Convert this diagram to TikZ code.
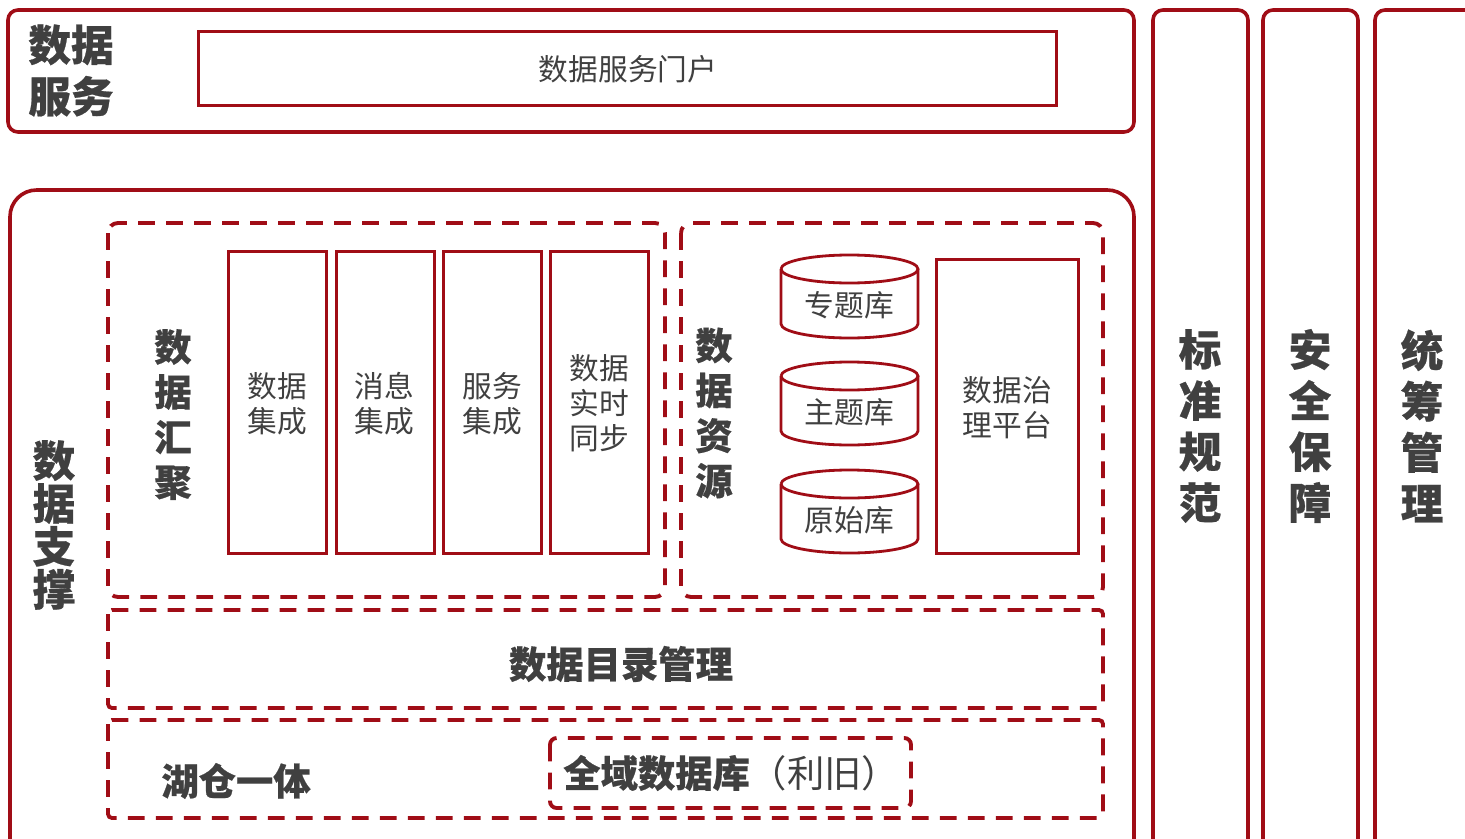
\documentclass[tikz,border=0pt]{standalone}
\usepackage{fontspec}
\setmainfont{Noto Sans CJK SC}[BoldFeatures={FakeBold=0.5}]
\definecolor{frame}{HTML}{A00D16}
\definecolor{ink}{HTML}{404040}
\newcommand{\fsz}[2]{\fontsize{#1}{#2}\selectfont}
\tikzset{
  x=0.75pt,y=-0.75pt,
  solidbox/.style={draw=frame,line width=2.7pt,rounded corners=7.5pt,fill=none},
  dashbox/.style={draw=frame,line width=2.9pt,rounded corners=7.5pt,dash pattern=on 12.6pt off 8.4pt,fill=none},
  flatdash/.style={dashbox,rounded corners=3pt},
  thinbox/.style={draw=frame,line width=2.25pt,fill=none,inner sep=0pt,outer sep=0pt,anchor=north west},
  thinline/.style={draw=frame,line width=2.1pt},
  plainlabel/.style={text=ink,font=\fsz{22.3}{26.3},inner sep=0pt,align=center},
  biglabel/.style={text=ink,font=\bfseries\fsz{32}{38.6},inner sep=0pt,align=center},
  midlabel/.style={text=ink,font=\bfseries\fsz{28}{33.8},inner sep=0pt,align=center},
  barlabel/.style={text=ink,font=\bfseries\fsz{32}{38.3},inner sep=0pt,align=center},
  dbtop/.style={x radius=68.5,y radius=14},
}
\begin{document}
\begin{tikzpicture}
\useasboundingbox (0,0) rectangle (1465,839);
\clip (0,0) rectangle (1465,839);
% outer solid frames
\draw[solidbox] (8,10) rectangle (1134,132);
\draw[solidbox,rounded corners=20pt] (10,190) rectangle (1134,880);
\draw[solidbox] (1153,10) rectangle (1248,880);
\draw[solidbox] (1263,10) rectangle (1358,880);
\draw[solidbox] (1375,10) rectangle (1500,880);
% dashed frames
\draw[dashbox] (108,223) rectangle (665,597);
\draw[dashbox] (681,223) rectangle (1103,597);
\draw[flatdash] (108,610) rectangle (1103,708);
\draw[flatdash] (108,720) rectangle (1103,818);
\draw[dashbox,rounded corners=5pt] (550,738) rectangle (911,808);
% service row
\node[biglabel] (svc) at (71,70.5) {数据\\服务};
\node[thinbox,minimum width=643.5pt,minimum height=55.5pt] (portal) at (198,31) {};
\node[plainlabel] (portalt) at (628,69.5) {数据服务门户};
% data support
\node[barlabel,font=\bfseries\fsz{32}{32.2}] (support) at (54,525) {数\\据\\支\\撑};
% aggregation
\node[midlabel] (agg) at (173,414.5) {数\\据\\汇\\聚};
\node[thinbox,minimum width=73.5pt,minimum height=226.5pt] (r1) at (228,251) {};
\node[thinbox,minimum width=73.5pt,minimum height=226.5pt] (r2) at (336,251) {};
\node[thinbox,minimum width=73.5pt,minimum height=226.5pt] (r3) at (443,251) {};
\node[thinbox,minimum width=73.5pt,minimum height=226.5pt] (r4) at (550,251) {};
\node[plainlabel] (r1t) at (277,404) {数据\\集成};
\node[plainlabel] (r2t) at (384.5,404) {消息\\集成};
\node[plainlabel] (r3t) at (492,404) {服务\\集成};
\node[plainlabel] (r4t) at (599,403.5) {数据\\实时\\同步};
% resources
\node[midlabel] (res) at (714,413) {数\\据\\资\\源};
\draw[thinline] (781,269) arc[start angle=180,end angle=-180,dbtop];
\draw[thinline] (781,269) -- (781,324) arc[start angle=180,end angle=0,dbtop] -- (918,269);
\node[plainlabel] (db1) at (849.5,305) {专题库};
\draw[thinline] (781,376) arc[start angle=180,end angle=-180,dbtop];
\draw[thinline] (781,376) -- (781,431) arc[start angle=180,end angle=0,dbtop] -- (918,376);
\node[plainlabel] (db2) at (849.5,412) {主题库};
\draw[thinline] (781,484) arc[start angle=180,end angle=-180,dbtop];
\draw[thinline] (781,484) -- (781,539) arc[start angle=180,end angle=0,dbtop] -- (918,484);
\node[plainlabel] (db3) at (849.5,520) {原始库};
\node[thinbox,minimum width=107pt,minimum height=220.5pt] (gov) at (936,259) {};
\node[plainlabel] (govt) at (1007.5,408) {数据治\\理平台};
% catalogue and lakehouse
\node[midlabel] (cat) at (621,664) {数据目录管理};
\node[midlabel] (lake) at (236,781) {湖仓一体};
\node[midlabel,anchor=west] (whole) at (563,773) {全域数据库\mdseries（利旧）};
% right bars
\node[barlabel] (std) at (1200,426) {标\\准\\规\\范};
\node[barlabel] (sec) at (1310,426) {安\\全\\保\\障};
\node[barlabel] (mgt) at (1422,426) {统\\筹\\管\\理};
\end{tikzpicture}
\end{document}
